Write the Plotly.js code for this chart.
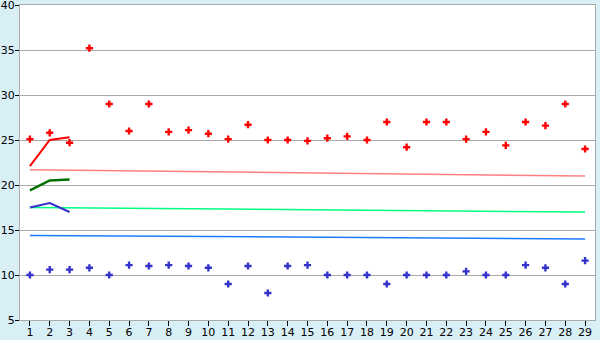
<!DOCTYPE html>
<html>
<head>
<meta charset="utf-8">
<script src="https://cdn.plot.ly/plotly-3.0.1.min.js"></script>
<style>
html,body{margin:0;padding:0;background:#d9eff6;}
#chart{width:600px;height:340px;}
</style>
</head>
<body>
<div id="chart"></div>
<script>
const categories = [1,2,3,4,5,6,7,8,9,10,11,12,13,14,15,16,17,18,19,20,21,22,23,24,25,26,27,28,29];
const redPoints = [25.1,25.8,24.7,35.2,29,26,29,25.9,26.1,25.7,25.1,26.7,25,25,24.9,25.2,25.4,25,27,24.2,27,27,25.1,25.9,24.4,27,26.6,29,24];
const bluePoints = [10,10.6,10.6,10.8,10,11.1,11,11.1,11,10.8,9,11,8,11,11.1,10,10,10,9,10,10,10,10.4,10,10,11.1,10.8,9,11.6];
const shortX = [1,2,3];
const redLine = [22.1,25,25.3];
const greenLine = [19.4,20.5,20.6];
const blueLine = [17.5,18,17];
const trendX = [1,29];
const pinkTrend = [21.7,21.0];
const greenTrend = [17.5,17.0];
const blueTrend = [14.4,14.0];

const traces = [
  {x:trendX, y:pinkTrend, mode:'lines', line:{color:'#ff8080', width:1.5}},
  {x:trendX, y:greenTrend, mode:'lines', line:{color:'#00ff80', width:1.5}},
  {x:trendX, y:blueTrend, mode:'lines', line:{color:'#1a7aff', width:1.5}},
  {x:shortX, y:redLine, mode:'lines', line:{color:'#ff0000', width:2}},
  {x:shortX, y:greenLine, mode:'lines', line:{color:'#007000', width:2.5}},
  {x:shortX, y:blueLine, mode:'lines', line:{color:'#3333cc', width:2}},
  {x:categories, y:redPoints, mode:'markers', marker:{symbol:'cross', size:6, color:'#ff0000'}},
  {x:categories, y:bluePoints, mode:'markers', marker:{symbol:'cross', size:6, color:'#3333cc'}}
];

const layout = {
  width:600, height:340,
  margin:{l:20, r:5, t:5, b:20},
  paper_bgcolor:'#d9eff6',
  plot_bgcolor:'#ffffff',
  showlegend:false,
  font:{family:'DejaVu Sans, Verdana, sans-serif', size:11, color:'#000000'},
  xaxis:{
    range:[0.5,29.5], tickvals:categories, ticktext:categories.map(String),
    showgrid:false, zeroline:false,
    showline:true, linecolor:'#aaaaaa', linewidth:1, mirror:true,
    ticks:'outside', ticklen:5, tickcolor:'#000000', tickwidth:1,
    ticklabelstandoff:-3, ticklabeloverflow:'allow',
    tickfont:{size:11}
  },
  yaxis:{
    range:[5,40], dtick:5, tick0:5,
    showgrid:true, gridcolor:'#aaaaaa', gridwidth:1, zeroline:false,
    showline:true, linecolor:'#aaaaaa', linewidth:1, mirror:true,
    ticks:'outside', ticklen:4, tickcolor:'#000000', tickwidth:1,
    ticklabelstandoff:-2, ticklabeloverflow:'allow',
    tickfont:{size:11}
  }
};

Plotly.newPlot('chart', traces, layout, {displayModeBar:false, staticPlot:true});
</script>
</body>
</html>
